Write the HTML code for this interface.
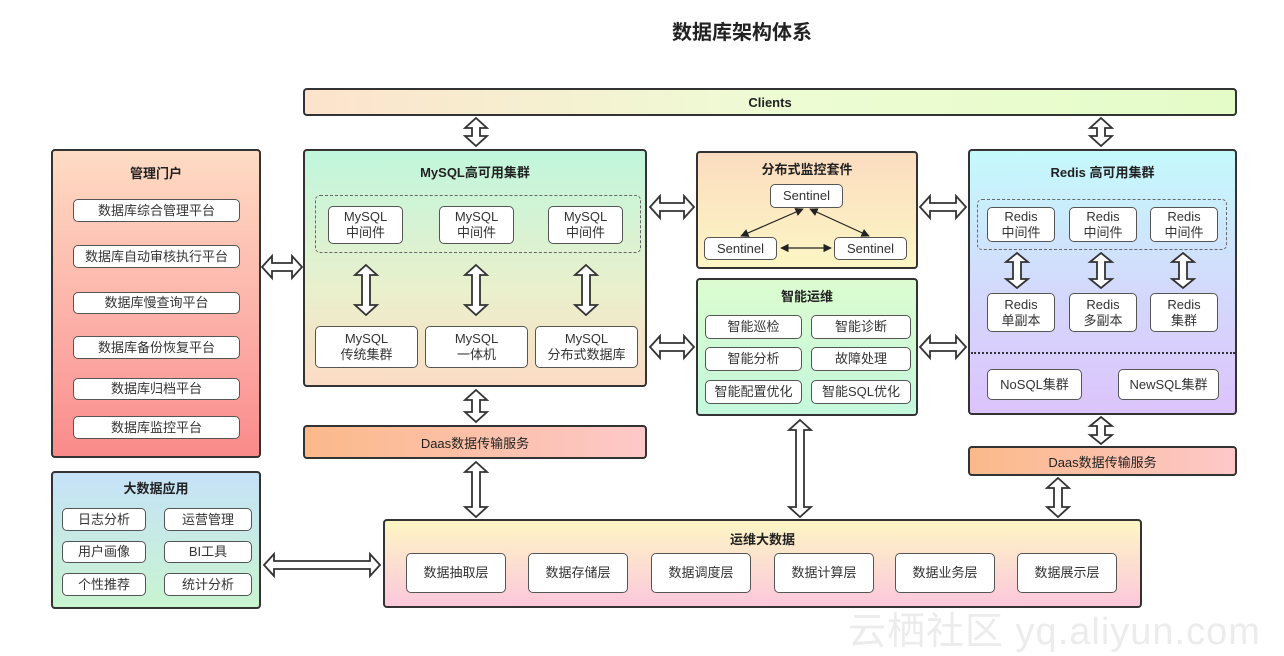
<!DOCTYPE html>
<html><head><meta charset="utf-8"><style>
*{box-sizing:border-box;margin:0;padding:0}
body{width:1284px;height:656px;background:#fff;position:relative;overflow:hidden;font-family:"Liberation Sans","Noto Sans CJK SC",sans-serif;color:#222}
.a{position:absolute}
.p{position:absolute;border:2px solid #333;border-radius:4px}
.b{position:absolute;background:#fff;border:1.5px solid #555;border-radius:5px;display:flex;align-items:center;justify-content:center;text-align:center;font-size:13px;line-height:16px;color:#333}
.t{position:absolute;font-weight:bold;font-size:13px;text-align:center;left:0;right:0}
svg{position:absolute;left:0;top:0}
</style></head><body>
<div class="a" style="left:0;width:1284px;top:16px;text-align:center;font-size:20px;font-weight:bold;padding-left:200px">数据库架构体系</div>

<div class="p" style="left:303px;top:88px;width:934px;height:28px;background:linear-gradient(90deg,#fde3cc,#eefcd4,#e4fcc8);display:flex;align-items:center;justify-content:center;font-weight:bold;font-size:13px">Clients</div>

<!-- 管理门户 -->
<div class="p" style="left:51px;top:149px;width:210px;height:309px;background:linear-gradient(#fedcc4,#fca5a0 70%,#f98a8a)">
<div class="t" style="top:12px">管理门户</div></div>
<div class="b" style="left:73px;top:199px;width:167px;height:23px">数据库综合管理平台</div>
<div class="b" style="left:73px;top:245px;width:167px;height:23px">数据库自动审核执行平台</div>
<div class="b" style="left:73px;top:292px;width:167px;height:22px">数据库慢查询平台</div>
<div class="b" style="left:73px;top:336px;width:167px;height:23px">数据库备份恢复平台</div>
<div class="b" style="left:73px;top:378px;width:167px;height:22px">数据库归档平台</div>
<div class="b" style="left:73px;top:416px;width:167px;height:23px">数据库监控平台</div>

<!-- 大数据应用 -->
<div class="p" style="left:51px;top:471px;width:210px;height:138px;background:linear-gradient(#c6e2f8,#c8f4d0)">
<div class="t" style="top:5px">大数据应用</div></div>
<div class="b" style="left:62px;top:508px;width:84px;height:23px">日志分析</div>
<div class="b" style="left:164px;top:508px;width:88px;height:23px">运营管理</div>
<div class="b" style="left:62px;top:541px;width:84px;height:22px">用户画像</div>
<div class="b" style="left:164px;top:541px;width:88px;height:22px">BI工具</div>
<div class="b" style="left:62px;top:573px;width:84px;height:23px">个性推荐</div>
<div class="b" style="left:164px;top:573px;width:88px;height:23px">统计分析</div>

<!-- MySQL -->
<div class="p" style="left:303px;top:149px;width:344px;height:238px;background:linear-gradient(#c0f6dc,#eaf0cc 60%,#fbdcc4)">
<div class="t" style="top:11px">MySQL高可用集群</div></div>
<div class="a" style="left:315px;top:195px;width:326px;height:58px;border:1.5px dashed #666;border-radius:5px"></div>
<div class="b" style="left:328px;top:206px;width:75px;height:38px">MySQL<br>中间件</div>
<div class="b" style="left:439px;top:206px;width:75px;height:38px">MySQL<br>中间件</div>
<div class="b" style="left:548px;top:206px;width:75px;height:38px">MySQL<br>中间件</div>
<div class="b" style="left:315px;top:326px;width:103px;height:42px">MySQL<br>传统集群</div>
<div class="b" style="left:425px;top:326px;width:103px;height:42px">MySQL<br>一体机</div>
<div class="b" style="left:535px;top:326px;width:103px;height:42px">MySQL<br>分布式数据库</div>

<div class="p" style="left:303px;top:425px;width:344px;height:34px;background:linear-gradient(90deg,#fbb98a,#fdc8c8);display:flex;align-items:center;justify-content:center;font-size:13px">Daas数据传输服务</div>

<!-- 监控 -->
<div class="p" style="left:696px;top:151px;width:222px;height:118px;background:linear-gradient(#fbdcc0,#fdf6c4)">
<div class="t" style="top:6px">分布式监控套件</div></div>
<div class="b" style="left:770px;top:184px;width:73px;height:24px">Sentinel</div>
<div class="b" style="left:704px;top:237px;width:73px;height:23px">Sentinel</div>
<div class="b" style="left:834px;top:237px;width:73px;height:23px">Sentinel</div>

<!-- 智能运维 -->
<div class="p" style="left:696px;top:278px;width:222px;height:138px;background:linear-gradient(#dcfcd0,#c4f8dc)">
<div class="t" style="top:6px">智能运维</div></div>
<div class="b" style="left:705px;top:315px;width:97px;height:24px">智能巡检</div>
<div class="b" style="left:811px;top:315px;width:100px;height:24px">智能诊断</div>
<div class="b" style="left:705px;top:347px;width:97px;height:24px">智能分析</div>
<div class="b" style="left:811px;top:347px;width:100px;height:24px">故障处理</div>
<div class="b" style="left:705px;top:380px;width:97px;height:24px">智能配置优化</div>
<div class="b" style="left:811px;top:380px;width:100px;height:24px">智能SQL优化</div>

<!-- Redis -->
<div class="p" style="left:968px;top:149px;width:269px;height:266px;background:linear-gradient(#c4fafc,#d4d8fc 55%,#dcc4fc)">
<div class="t" style="top:11px">Redis 高可用集群</div></div>
<div class="a" style="left:977px;top:199px;width:250px;height:51px;border:1.5px dashed #666;border-radius:5px"></div>
<div class="b" style="left:987px;top:207px;width:68px;height:35px">Redis<br>中间件</div>
<div class="b" style="left:1069px;top:207px;width:68px;height:35px">Redis<br>中间件</div>
<div class="b" style="left:1150px;top:207px;width:68px;height:35px">Redis<br>中间件</div>
<div class="b" style="left:987px;top:293px;width:68px;height:39px">Redis<br>单副本</div>
<div class="b" style="left:1069px;top:293px;width:68px;height:39px">Redis<br>多副本</div>
<div class="b" style="left:1150px;top:293px;width:68px;height:39px">Redis<br>集群</div>
<div class="a" style="left:971px;top:352px;width:264px;border-top:2px dotted #333"></div>
<div class="b" style="left:987px;top:369px;width:95px;height:31px">NoSQL集群</div>
<div class="b" style="left:1118px;top:369px;width:101px;height:31px">NewSQL集群</div>

<div class="p" style="left:968px;top:446px;width:269px;height:30px;background:linear-gradient(90deg,#fbb98a,#fdc8c8);display:flex;align-items:center;justify-content:center;font-size:13px">Daas数据传输服务</div>

<!-- 运维大数据 -->
<div class="p" style="left:383px;top:519px;width:759px;height:89px;background:linear-gradient(#fdf6c4,#fcc8dc)">
<div class="t" style="top:8px">运维大数据</div></div>
<div class="b" style="left:406px;top:553px;width:100px;height:40px">数据抽取层</div>
<div class="b" style="left:528px;top:553px;width:100px;height:40px">数据存储层</div>
<div class="b" style="left:651px;top:553px;width:100px;height:40px">数据调度层</div>
<div class="b" style="left:774px;top:553px;width:100px;height:40px">数据计算层</div>
<div class="b" style="left:895px;top:553px;width:100px;height:40px">数据业务层</div>
<div class="b" style="left:1017px;top:553px;width:100px;height:40px">数据展示层</div>

<div class="a" style="left:848px;top:600px;font-size:38px;color:#ececec;letter-spacing:1px;white-space:nowrap">云栖社区 yq.aliyun.com</div>

<svg width="1284" height="656" viewBox="0 0 1284 656">
<defs><marker id="m" viewBox="0 0 10 10" refX="9" refY="5" markerWidth="7" markerHeight="7" orient="auto-start-reverse"><path d="M0,0 L10,5 L0,10z" fill="#222"/></marker></defs>
<g fill="#fff" stroke="#333" stroke-width="1.8" stroke-linejoin="miter">
<polygon points="262,267 272,256 272,263 292,263 292,256 302,267 292,278 292,271 272,271 272,278"/>
<polygon points="650,207 660,196 660,203 684,203 684,196 694,207 684,218 684,211 660,211 660,218"/>
<polygon points="650,347 660,336 660,343 684,343 684,336 694,347 684,358 684,351 660,351 660,358"/>
<polygon points="920,207 930,196 930,203 956,203 956,196 966,207 956,218 956,211 930,211 930,218"/>
<polygon points="920,347 930,336 930,343 956,343 956,336 966,347 956,358 956,351 930,351 930,358"/>
<polygon points="264,565 274,554 274,561 370,561 370,554 380,565 370,576 370,569 274,569 274,576"/>
<polygon points="476,118 487,128 480,128 480,136 487,136 476,146 465,136 472,136 472,128 465,128"/>
<polygon points="1101,118 1112,128 1105,128 1105,136 1112,136 1101,146 1090,136 1097,136 1097,128 1090,128"/>
<polygon points="476,390 487,400 480,400 480,412 487,412 476,422 465,412 472,412 472,400 465,400"/>
<polygon points="476,462 487,472 480,472 480,507 487,507 476,517 465,507 472,507 472,472 465,472"/>
<polygon points="800,420 811,430 804,430 804,507 811,507 800,517 789,507 796,507 796,430 789,430"/>
<polygon points="1101,417 1112,426 1105,426 1105,435 1112,435 1101,444 1090,435 1097,435 1097,426 1090,426"/>
<polygon points="1058,478 1069,488 1062,488 1062,507 1069,507 1058,517 1047,507 1054,507 1054,488 1047,488"/>
<polygon points="366,265 377,275 370,275 370,305 377,305 366,315 355,305 362,305 362,275 355,275"/>
<polygon points="476,265 487,275 480,275 480,305 487,305 476,315 465,305 472,305 472,275 465,275"/>
<polygon points="586,265 597,275 590,275 590,305 597,305 586,315 575,305 582,305 582,275 575,275"/>
<polygon points="1017,253 1028,262 1021,262 1021,279 1028,279 1017,288 1006,279 1013,279 1013,262 1006,262"/>
<polygon points="1101,253 1112,262 1105,262 1105,279 1112,279 1101,288 1090,279 1097,279 1097,262 1090,262"/>
<polygon points="1183,253 1194,262 1187,262 1187,279 1194,279 1183,288 1172,279 1179,279 1179,262 1172,262"/>
</g>
<g stroke="#222" stroke-width="1.2" marker-start="url(#m)" marker-end="url(#m)">
<line x1="803" y1="209" x2="741" y2="236"/>
<line x1="810" y1="209" x2="869" y2="236"/>
<line x1="781" y1="248" x2="831" y2="248"/>
</g>
</svg>
</body></html>
